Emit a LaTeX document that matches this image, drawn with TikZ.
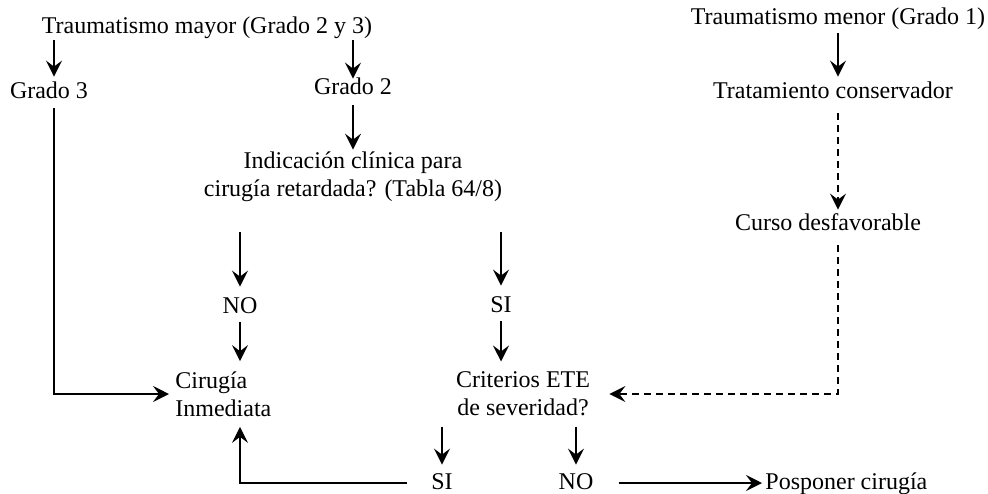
\documentclass[tikz,border=0pt]{standalone}
\usepackage{fontspec}
\setmainfont{Liberation Serif}
\usetikzlibrary{arrows.meta}

\begin{document}
\begin{tikzpicture}[x=0.5pt,y=-0.5pt,
    txt/.style={font=\fontsize{12}{14}\selectfont, inner sep=0pt, text height=8.5pt, text depth=2.5pt},
    twoline/.style={font=\fontsize{12}{14}\selectfont, inner sep=0pt, align=center},
    arr/.style={-{Stealth[length=8pt,width=8pt,inset=3pt]}, line width=0.9pt},
    dasharr/.style={arr, line width=0.8pt, dash pattern=on 3.5pt off 2.5pt}]
        \useasboundingbox (0,0) rectangle (988,493);

        % Major trauma
        \node[txt] (mayor) at (207,27) {Traumatismo mayor (Grado 2 y 3)};
        \node[txt] (grado3) at (49,92) {Grado 3};
        \coordinate (g3line) at (54,0);
        \node[txt] (grado2) at (353,88) {Grado 2};
        \node[twoline] (indic) at (353,177) {Indicación clínica para\\cirugía retardada? (Tabla 64/8)};
        \node[txt] (no) at (240,307) {NO};
        \node[txt] (si) at (501,306) {SI};
        \node[twoline, align=left, anchor=west] (cirugia) at (175,394) {Cirugía\\Inmediata};
        \node[twoline] (crit) at (523,394) {Criterios ETE\\de severidad?};
        \node[txt] (si2) at (442,483) {SI};
        \node[txt] (no2) at (576,483) {NO};
        \node[txt, anchor=west] (posponer) at (765,483) {Posponer cirugía};

        % Minor trauma
        \node[txt] (menor) at (838,18) {Traumatismo menor (Grado 1)};
        \node[txt] (trat) at (833,92) {Tratamiento conservador};
        \node[txt] (curso) at (828,224) {Curso desfavorable};

        % Arrows, major trauma
        \draw[arr, shorten <=1pt, shorten >=2pt] (mayor.south -| g3line) -- (g3line |- grado3.north);
        \draw[arr, shorten <=1pt, shorten >=-1pt] (mayor.south -| grado2) -- (grado2.north);
        \draw[arr, shorten <=3pt, shorten >=1pt] (grado2.south) -- (grado2.south |- indic.north);
        \draw[arr, shorten <=15pt, shorten >=4.5pt] (indic.south -| no) -- (no.north);
        \draw[arr, shorten <=15pt, shorten >=4.5pt] (indic.south -| si) -- (si.north);
        \draw[arr, shorten <=2pt, shorten >=5pt] (no.south) -- (no |- cirugia.north);
        \draw[arr, shorten <=2pt, shorten >=5pt] (si.south) -- (si |- crit.north);
        \draw[arr, shorten <=2.5pt, shorten >=3pt] (g3line |- grado3.south) -- (g3line |- cirugia.west) -- (cirugia.west);
        \draw[arr, shorten <=5pt, shorten >=3.5pt] (crit.south -| si2) -- (si2.north);
        \draw[arr, shorten <=5pt, shorten >=3.5pt] (crit.south -| no2) -- (no2.north);
        \draw[arr, shorten <=12pt, shorten >=5pt] (si2.west) -- (no |- si2) -- (no |- cirugia.south);
        \draw[arr, shorten <=12.5pt, shorten >=1.5pt] (no2.east) -- (posponer.west);

        % Arrows, minor trauma
        \draw[arr, shorten <=2pt, shorten >=2pt] (menor.south) -- (menor.south |- trat.north);
        \draw[dasharr, shorten <=5pt, shorten >=1.5pt] (menor |- trat.south) -- (menor |- curso.north);
        \draw[dasharr, shorten <=5pt, shorten >=9.5pt] (menor |- curso.south) -- (menor |- crit.east) -- (crit.east);
    \end{tikzpicture}
\end{document}
